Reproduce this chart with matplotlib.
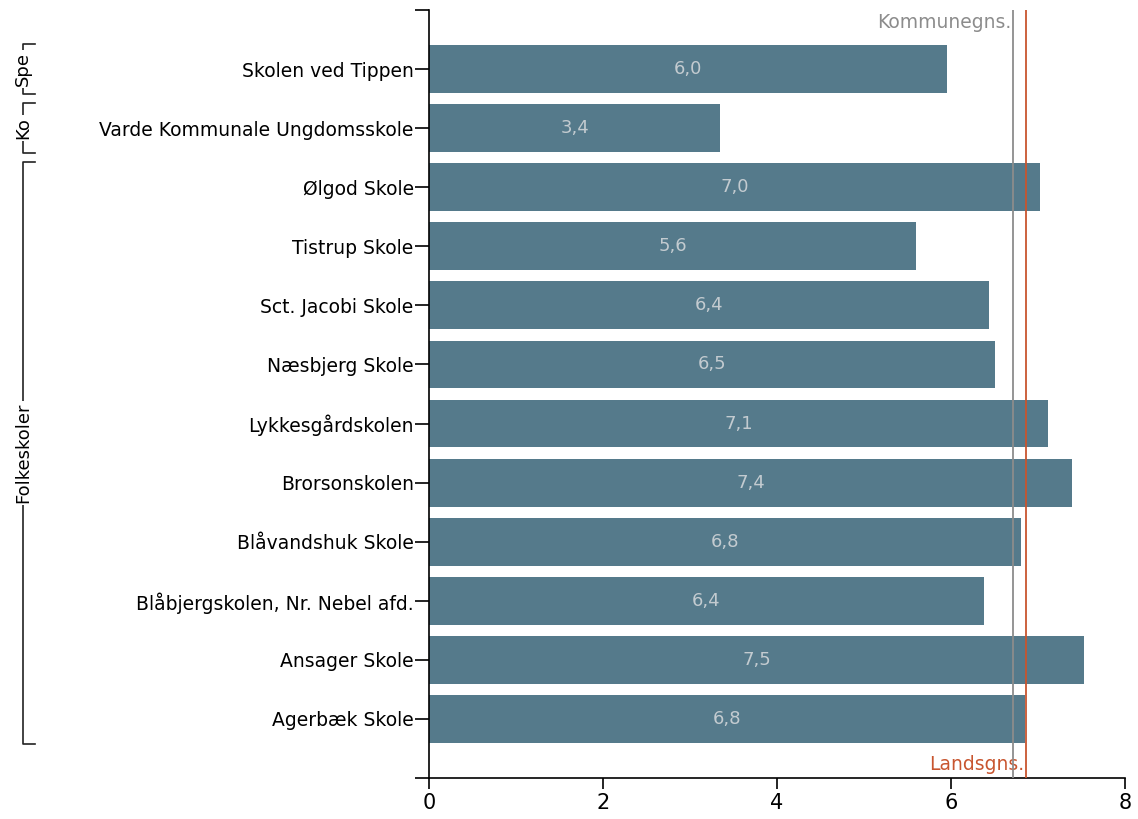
import matplotlib.pyplot as plt
import matplotlib.transforms as mtransforms

# data
schools = ["Skolen ved Tippen", "Varde Kommunale Ungdomsskole", "Ølgod Skole",
           "Tistrup Skole", "Sct. Jacobi Skole", "Næsbjerg Skole",
           "Lykkesgårdskolen", "Brorsonskolen", "Blåvandshuk Skole",
           "Blåbjergskolen, Nr. Nebel afd.", "Ansager Skole", "Agerbæk Skole"]
values = [5.95, 3.35, 7.02, 5.6, 6.44, 6.51, 7.12, 7.39, 6.8, 6.38, 7.53, 6.85]
labels = ["6,0", "3,4", "7,0", "5,6", "6,4", "6,5", "7,1", "7,4", "6,8", "6,4", "7,5", "6,8"]
groups = [("Spe", 0, 0), ("Ko", 1, 1), ("Folkeskoler", 2, 11)]
kommune_avg = 6.71
lands_avg = 6.86

BAR = "#557a8b"
ORANGE = "#c8552f"
GRAY = "#8c8c8c"

fig = plt.figure(figsize=(11.38, 8.19), dpi=100)
ax = fig.add_axes([429 / 1138, 1 - 778 / 819, (1125 - 429) / 1138, (778 - 10) / 819])

y = list(range(len(schools)))
ax.barh(y, values, height=0.81, color=BAR, zorder=2)
for yi, v, lab in zip(y, values, labels):
    ax.text(v / 2, yi, lab, ha="center", va="center", color="#c3cbd0", fontsize=13, zorder=3)

ax.axvline(kommune_avg, color=GRAY, lw=1.3, zorder=4)
ax.axvline(lands_avg, color=ORANGE, lw=1.3, zorder=4)
ax.text(kommune_avg - 0.02, -0.78, "Kommunegns.", ha="right", va="center", color=GRAY, fontsize=13.5)
ax.text(lands_avg - 0.02, 11.77, "Landsgns.", ha="right", va="center", color=ORANGE, fontsize=13.5)

ax.set_xlim(0, 8)
ax.set_ylim(12, -1)
ax.set_xticks([0, 2, 4, 6, 8])
ax.tick_params(axis="x", labelsize=15, length=8, width=1.2, pad=3)
ax.set_yticks([-1] + y + [12])
ax.set_yticklabels([""] + schools + [""])
ax.tick_params(axis="y", labelsize=13.5, length=10, width=1.2, pad=1)
for s in ["top", "right"]:
    ax.spines[s].set_visible(False)
for s in ["left", "bottom"]:
    ax.spines[s].set_linewidth(1.2)

# group brackets on the left
trans = mtransforms.blended_transform_factory(fig.transFigure, ax.transData)
x0 = 23 / 1138
x1 = 35 / 1138
for name, a, b in groups:
    top = a - 0.42
    bot = b + 0.42
    ax.plot([x1, x0, x0, x1], [top, top, bot, bot], color="#222222", lw=1.2,
            transform=trans, clip_on=False)
    ax.text(x0, (top + bot) / 2, name, rotation=90, ha="center", va="center",
            fontsize=13, transform=trans, clip_on=False,
            bbox=dict(facecolor="white", edgecolor="none", pad=1.5))

fig.savefig("out.png", dpi=100)
